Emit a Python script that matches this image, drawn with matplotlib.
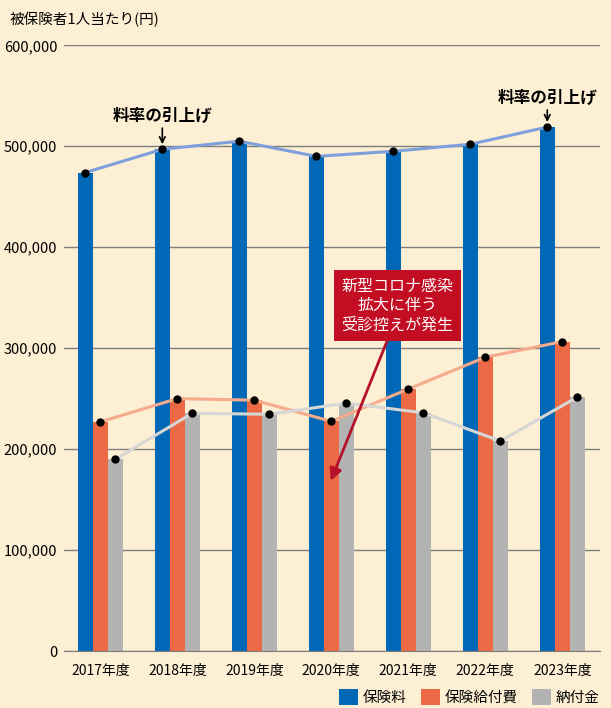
import matplotlib.pyplot as plt
import numpy as np

plt.rcParams['font.family'] = ['Noto Sans CJK JP', 'DejaVu Sans']

years = ['2017年度', '2018年度', '2019年度', '2020年度', '2021年度', '2022年度', '2023年度']
hokenryo = [474000, 497000, 505000, 490000, 495000, 502000, 519000]
kyufu = [227000, 250000, 248500, 227500, 259500, 291000, 306500]
nofu = [190000, 235500, 234500, 245500, 236000, 208000, 251500]
series_names = ['保険料', '保険給付費', '納付金']
yticks = [0, 100000, 200000, 300000, 400000, 500000, 600000]

bg = '#fdefd4'
bar_colors = ['#0068b7', '#eb6a45', '#b3b3b3']
line_colors = ['#7f9fdc', '#f5ab8c', '#d6d6d4']

fig = plt.figure(figsize=(6.11, 7.08), dpi=100, facecolor=bg)
ax = fig.add_axes([0.105, 0.0805, 0.877, 0.8555], facecolor=bg)

x = np.arange(len(years))
w = 0.195
for k, vals in enumerate([hokenryo, kyufu, nofu]):
    pos = x + (k - 1) * w
    ax.bar(pos, vals, width=w, color=bar_colors[k], label=series_names[k], zorder=2)
for k, vals in enumerate([hokenryo, kyufu, nofu]):
    pos = x + (k - 1) * w
    ax.plot(pos, vals, color=line_colors[k], lw=2.2, zorder=3)
    ax.plot(pos, vals, 'o', color='black', ms=5, zorder=4)

ax.set_xlim(-0.47, 6.49)
ax.set_ylim(0, 600000)
ax.set_yticks(yticks)
ax.set_yticklabels([f'{v:,}' for v in yticks], fontsize=10.5)
ax.set_xticks(x)
ax.set_xticklabels(years, fontsize=10)
ax.tick_params(axis='both', length=0, pad=5)
ax.tick_params(axis='x', pad=9)
ax.yaxis.grid(True, color='#7d7d79', lw=1, zorder=0)
for s in ['left', 'right', 'top']:
    ax.spines[s].set_visible(False)
ax.spines['bottom'].set_color('#7d7d79')

fig.text(0.016, 0.972, '被保険者1人当たり(円)', fontsize=10.5, va='center', ha='left')

# 料率の引上げ
for i, ty in [(1, 530000), (6, 548000)]:
    ax.text(x[i] - w, ty, '料率の引上げ', ha='center', va='center',
            fontsize=12, fontweight='bold')
    ax.annotate('', xy=(x[i] - w, hokenryo[i] + 5000), xytext=(x[i] - w, ty - 12000),
                arrowprops=dict(arrowstyle='->', color='black', lw=1.2,
                                shrinkA=0, shrinkB=0))

# コロナ注記
ax.annotate('', xy=(x[3] - 0.02, 166000), xytext=(x[3] + 0.75, 312000),
            arrowprops=dict(arrowstyle='-|>', color='#b5122a', lw=2, mutation_scale=18),
            zorder=5)
ax.text(x[3] + 0.86, 342000, '新型コロナ感染\n拡大に伴う\n受診控えが発生', color='white',
        fontsize=11.5, ha='center', va='center', linespacing=1.2, zorder=6,
        bbox=dict(boxstyle='square,pad=0.45', fc='#c30d23', ec='none'))

ax.legend(loc='lower right', bbox_to_anchor=(1.01, -0.098), ncol=3, frameon=False,
          fontsize=10.5, handlelength=1.3, handleheight=1.3, handletextpad=0.3,
          columnspacing=1.0, borderaxespad=0)

fig.savefig('out.png', dpi=100, facecolor=bg)
